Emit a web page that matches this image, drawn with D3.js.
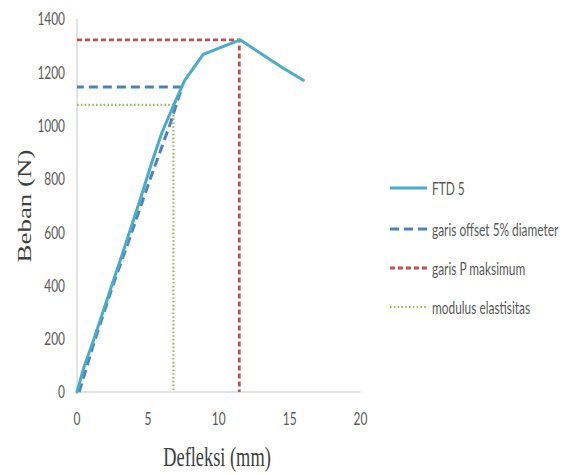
<!DOCTYPE html>
<html>
<head>
<meta charset="utf-8">
<script src="https://cdn.jsdelivr.net/npm/d3@7"></script>
<style>
  html, body { margin: 0; padding: 0; background: #fff; }
  svg { display: block; }
</style>
</head>
<body>
<svg id="chart" width="577" height="475"></svg>
<script>
// ---- data (deflection mm, load N) ----
const ftdX = [0, 0.5, 1.2, 2.3, 3.4, 4.5, 5.3, 6.0, 6.8, 7.6, 8.9, 11.5, 13.5, 14.56, 15.97];
const ftdY = [0, 95, 200, 375, 550, 730, 865, 975, 1075, 1170, 1267, 1322, 1252, 1215, 1170];
const offsetX = [0.15, 1.2, 2.5, 3.7, 5.1, 6.6, 7.4, 0];
const offsetY = [0, 185, 395, 575, 790, 1010, 1145, 1145];
const pmaxX = [0, 11.45, 11.45];
const pmaxY = [1322, 1322, 0];
const modX = [0, 6.8, 6.8];
const modY = [1078, 1078, 0];
const xTicks = [0, 5, 10, 15, 20];
const yTicks = [0, 200, 400, 600, 800, 1000, 1200, 1400];
const legendLabels = ["FTD 5", "garis offset 5% diameter", "garis P maksimum", "modulus elastisitas"];
const xTitle = "Defleksi (mm)";
const yTitle = "Beban (N)";

const svg = d3.select("#chart");
const x = d3.scaleLinear().domain([0, 20]).range([77, 360.5]);
const y = d3.scaleLinear().domain([0, 1400]).range([392, 19]);

const SQ = 0.7; // horizontal squeeze of the original picture
const sans = "Lato, 'Open Sans', sans-serif";
const serif = "'Liberation Serif', 'Times New Roman', serif";

function label(g, txt, tx, ty, opts) {
  const sq = opts.sq || SQ;
  return g.append("text")
    .attr("transform", `translate(${tx},${ty}) ${opts.rotate ? "rotate(-90)" : ""} scale(${opts.rotate ? 1 : sq},${opts.rotate ? sq : 1})`)
    .attr("text-anchor", opts.anchor || "start")
    .attr("dominant-baseline", "central")
    .attr("font-family", opts.family || sans)
    .attr("font-size", opts.size || 17)
    .attr("fill", opts.fill || "#595959")
    .text(txt);
}

// axes lines
svg.append("line").attr("x1", x(0)).attr("x2", x(0)).attr("y1", y(1400)).attr("y2", y(0))
  .attr("stroke", "#c8c8c8").attr("stroke-width", 1);
svg.append("line").attr("x1", x(0)).attr("x2", x(20)).attr("y1", y(0)).attr("y2", y(0))
  .attr("stroke", "#c8c8c8").attr("stroke-width", 1);

const tg = svg.append("g");
yTicks.forEach(v => label(tg, d3.format("d")(v), 65, y(v), { anchor: "end", size: 17 }));
xTicks.forEach(v => label(tg, d3.format("d")(v), x(v), 419, { anchor: "middle", size: 17 }));

// axis titles
label(svg, xTitle, 217, 457, { anchor: "middle", family: serif, size: 27, fill: "#404040", sq: 0.68 });
label(svg, yTitle, 25, 206, { anchor: "middle", family: serif, size: 27, fill: "#404040", rotate: true });

// series
const styles = [
  { color: "#4BACC6", width: 3, dash: null, cap: "round" },
  { color: "#4F81BD", width: 3, dash: "9,5", cap: "butt" },
  { color: "#C0504D", width: 2.8, dash: "5,3", cap: "butt" },
  { color: "#9BBB59", width: 2.2, dash: "1.6,2.2", cap: "butt" }
];
const seriesData = [
  d3.zip(ftdX, ftdY),
  d3.zip(offsetX, offsetY),
  d3.zip(pmaxX, pmaxY),
  d3.zip(modX, modY)
];
const line = d3.line().x(d => x(d[0])).y(d => y(d[1]));
const drawOrder = [3, 2, 1, 0];
drawOrder.forEach(i => {
  svg.append("path")
    .attr("d", line(seriesData[i]))
    .attr("fill", "none")
    .attr("stroke", styles[i].color)
    .attr("stroke-width", styles[i].width)
    .attr("stroke-dasharray", styles[i].dash)
    .attr("stroke-linecap", styles[i].cap)
    .attr("stroke-linejoin", "round");
});

// legend
const legY = [188, 229, 268, 307];
const lg = svg.append("g");
legendLabels.forEach((lab, i) => {
  lg.append("line")
    .attr("x1", 390).attr("x2", 427).attr("y1", legY[i]).attr("y2", legY[i])
    .attr("stroke", styles[i].color)
    .attr("stroke-width", styles[i].width)
    .attr("stroke-dasharray", styles[i].dash);
  label(lg, lab, 432, legY[i], { anchor: "start", size: 18, sq: 0.66 });
});
</script>
</body>
</html>
